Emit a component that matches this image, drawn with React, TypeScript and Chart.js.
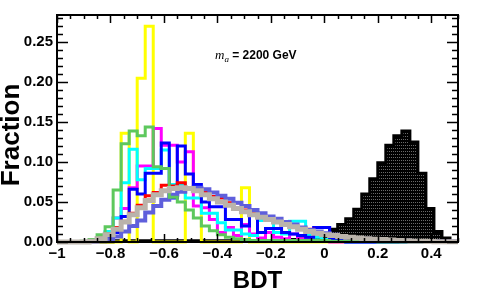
import React, { useEffect, useRef } from "react";
import { Chart, registerables } from "chart.js";

Chart.register(...registerables);

// Histogram binning (50 bins of width 0.03 from -1 to 0.5)
const BIN_MIN = -1;
const BIN_MAX = 0.5;
const N_BINS = 50;

// Axis ticks
const X_MAJOR = [-1, -0.8, -0.6, -0.4, -0.2, 0, 0.2, 0.4];
const X_LABELS = ["\u22121", "\u22120.8", "\u22120.6", "\u22120.4", "\u22120.2", "0", "0.2", "0.4"];
const X_MINOR_STEP = 0.05;
const Y_MAJOR = [0, 0.05, 0.1, 0.15, 0.2, 0.25];
const Y_LABELS = ["0.00", "0.05", "0.10", "0.15", "0.20", "0.25"];
const Y_MINOR_STEP = 0.01;
const Y_MAX = 0.284;

const X_TITLE = "BDT";
const Y_TITLE = "Fraction";

// Series (fraction per bin)
const yellow = [
  0, 0, 0, 0, 0, 0, 0, 0, 0.136, 0,
  0.205, 0.27, 0, 0, 0, 0, 0.136, 0.068, 0, 0,
  0, 0, 0, 0.068, 0, 0, 0, 0, 0, 0,
  0, 0, 0, 0, 0, 0, 0, 0, 0, 0,
  0, 0, 0, 0, 0, 0, 0, 0, 0, 0,
];
const magenta = [
  0, 0, 0, 0, 0.002, 0.004, 0.012, 0.03, 0.042, 0.068,
  0.095, 0.095, 0.142, 0.121, 0.121, 0.1, 0.113, 0.045, 0.043, 0.028,
  0.012, 0.018, 0.008, 0.022, 0.01, 0.005, 0.012, 0.006, 0.004, 0.01,
  0.004, 0.003, 0.002, 0.002, 0, 0, 0, 0, 0, 0,
  0, 0, 0, 0, 0, 0, 0, 0, 0, 0,
];
const cyan = [
  0, 0, 0, 0, 0.001, 0.005, 0.013, 0.03, 0.074, 0.116,
  0.078, 0.092, 0.092, 0.115, 0.072, 0.072, 0.055, 0.055, 0.036, 0.036,
  0.024, 0.015, 0.015, 0.01, 0.008, 0.027, 0.027, 0.012, 0.01, 0.026,
  0.026, 0.008, 0.006, 0.003, 0.002, 0.001, 0, 0, 0, 0,
  0, 0, 0, 0, 0, 0, 0, 0, 0, 0,
];
const blue = [
  0, 0, 0, 0, 0, 0.002, 0.006, 0.012, 0.032, 0.066,
  0.06, 0.086, 0.086, 0.124, 0.055, 0.12, 0.085, 0.072, 0.05, 0.044,
  0.044, 0.028, 0.028, 0.02, 0.04, 0.012, 0.017, 0.017, 0.012, 0.01,
  0.008, 0.006, 0.018, 0.018, 0.003, 0.002, 0, 0, 0, 0,
  0, 0, 0, 0, 0, 0, 0, 0, 0, 0,
];
const red = [
  0, 0, 0, 0, 0.002, 0.005, 0.01, 0.018, 0.026, 0.036,
  0.046, 0.058, 0.062, 0.071, 0.07, 0.074, 0.068, 0.066, 0.063, 0.057,
  0.055, 0.049, 0.049, 0.04, 0.038, 0.032, 0.03, 0.026, 0.025, 0.02,
  0.017, 0.016, 0.012, 0.01, 0.009, 0.007, 0.006, 0.005, 0.004, 0.0035,
  0.003, 0.0025, 0.002, 0.0015, 0.001, 0.001, 0.0005, 0.0003, 0.0003, 0.0003,
];
const green = [
  0, 0, 0, 0.001, 0.003, 0.009, 0.019, 0.065, 0.123, 0.139,
  0.133, 0.144, 0.094, 0.092, 0.056, 0.05, 0.04, 0.03, 0.02, 0.014,
  0.009, 0.006, 0.004, 0.003, 0.002, 0.002, 0.002, 0.002, 0.002, 0.002,
  0.002, 0.002, 0.002, 0.002, 0.001, 0.001, 0.001, 0.001, 0.001, 0.001,
  0, 0, 0, 0, 0, 0, 0, 0, 0, 0,
];
const slate = [
  0, 0, 0, 0, 0, 0.001, 0.003, 0.007, 0.013, 0.02,
  0.027, 0.037, 0.045, 0.053, 0.059, 0.063, 0.067, 0.068, 0.066, 0.062,
  0.058, 0.054, 0.049, 0.045, 0.04, 0.036, 0.032, 0.029, 0.025, 0.022,
  0.018, 0.015, 0.013, 0.011, 0.009, 0.007, 0.006, 0.005, 0.004, 0.003,
  0.003, 0.0025, 0.002, 0.0015, 0.001, 0.001, 0.0005, 0.0005, 0.0005, 0.0005,
];
const gray = [
  0, 0, 0, 0, 0.001, 0.004, 0.009, 0.016, 0.025, 0.034,
  0.043, 0.052, 0.059, 0.064, 0.067, 0.068, 0.067, 0.064, 0.059, 0.054,
  0.05, 0.046, 0.042, 0.038, 0.034, 0.031, 0.028, 0.025, 0.022, 0.019,
  0.016, 0.013, 0.011, 0.009, 0.008, 0.007, 0.006, 0.005, 0.004, 0.0035,
  0.003, 0.0025, 0.002, 0.0015, 0.001, 0.001, 0.0005, 0.0003, 0.0003, 0.0003,
];
const black = [
  0, 0, 0, 0, 0, 0, 0, 0.0015, 0.0015, 0.0015,
  0.0015, 0.0015, 0.0015, 0.0015, 0.0015, 0.0015, 0.0015, 0.0015, 0.0015, 0.0015,
  0.0015, 0.0015, 0.002, 0.002, 0.002, 0.002, 0.002, 0.002, 0.003, 0.003,
  0.004, 0.005, 0.006, 0.008, 0.016, 0.022, 0.029, 0.041, 0.06, 0.079,
  0.099, 0.121, 0.133, 0.139, 0.125, 0.086, 0.042, 0.013, 0.005, 0,
];

function histPoints(values: number[]) {
  const w = (BIN_MAX - BIN_MIN) / N_BINS;
  const pts: { x: number; y: number }[] = [];
  for (let i = 0; i <= N_BINS; i++) {
    pts.push({ x: BIN_MIN + i * w, y: values[Math.min(i, N_BINS - 1)] });
  }
  return pts;
}

const FONT = '"Liberation Sans", Arial, Helvetica, sans-serif';

const rootFrame = {
  id: "rootFrame",
  afterDatasetsDraw(chart: any) {
    const { ctx, chartArea: a, scales } = chart;
    const xs = scales.x;
    const ys = scales.y;
    ctx.save();
    ctx.strokeStyle = "#000";
    ctx.lineWidth = 2;
    ctx.strokeRect(a.left, a.top, a.right - a.left, a.bottom - a.top);

    ctx.lineWidth = 1.5;
    // x ticks (bottom & top, pointing inward)
    const nx = Math.round((BIN_MAX - BIN_MIN) / X_MINOR_STEP);
    for (let i = 0; i <= nx; i++) {
      const v = BIN_MIN + i * X_MINOR_STEP;
      const major = X_MAJOR.some((m) => Math.abs(m - v) < 1e-6);
      const len = major ? 8 : 4;
      const px = Math.round(xs.getPixelForValue(v)) + 0.5;
      ctx.beginPath();
      ctx.moveTo(px, a.bottom);
      ctx.lineTo(px, a.bottom - len);
      ctx.moveTo(px, a.top);
      ctx.lineTo(px, a.top + len);
      ctx.stroke();
    }
    // y ticks (left & right)
    const ny = Math.floor(Y_MAX / Y_MINOR_STEP + 1e-6);
    for (let i = 0; i <= ny; i++) {
      const v = i * Y_MINOR_STEP;
      const major = Y_MAJOR.some((m) => Math.abs(m - v) < 1e-6);
      const len = major ? 11 : 6;
      const py = Math.round(ys.getPixelForValue(v)) + 0.5;
      ctx.beginPath();
      ctx.moveTo(a.left, py);
      ctx.lineTo(a.left + len, py);
      ctx.moveTo(a.right, py);
      ctx.lineTo(a.right - len, py);
      ctx.stroke();
    }

    // tick labels
    ctx.fillStyle = "#000";
    ctx.font = `bold 15px ${FONT}`;
    ctx.textAlign = "center";
    ctx.textBaseline = "middle";
    X_MAJOR.forEach((v, i) => {
      ctx.fillText(X_LABELS[i], xs.getPixelForValue(v), a.bottom + 12);
    });
    ctx.textAlign = "right";
    Y_MAJOR.forEach((v, i) => {
      ctx.fillText(Y_LABELS[i], a.left - 4, ys.getPixelForValue(v));
    });

    // axis titles
    ctx.font = `bold 24px ${FONT}`;
    ctx.textAlign = "center";
    ctx.fillText(X_TITLE, (a.left + a.right) / 2, a.bottom + 39);
    ctx.save();
    ctx.translate(12, 135);
    ctx.rotate(-Math.PI / 2);
    ctx.font = `bold 26px ${FONT}`;
    ctx.fillText(Y_TITLE, 0, 0);
    ctx.restore();

    // annotation: m_a = 2200 GeV
    ctx.textAlign = "left";
    ctx.textBaseline = "alphabetic";
    let x = 215;
    const base = 59;
    ctx.font = `italic 13px "Liberation Serif", "Times New Roman", serif`;
    ctx.fillText("m", x, base);
    x += ctx.measureText("m").width;
    ctx.font = `italic 9px "Liberation Serif", "Times New Roman", serif`;
    ctx.fillText("a", x, base + 3);
    x += ctx.measureText("a").width;
    ctx.font = `bold 12px ${FONT}`;
    ctx.fillText(" = 2200 GeV", x, base);
    ctx.restore();
  },
};

export default function App() {
  const ref = useRef<HTMLCanvasElement | null>(null);
  useEffect(() => {
    const canvas = ref.current;
    if (!canvas) return;
    const c2d = canvas.getContext("2d")!;
    const pc = document.createElement("canvas");
    pc.width = 2;
    pc.height = 3;
    const pctx = pc.getContext("2d")!;
    pctx.fillStyle = "#000";
    pctx.fillRect(0, 0, 2, 3);
    pctx.fillStyle = "#6a6a6a";
    pctx.fillRect(1, 1, 1, 1);
    const pattern = c2d.createPattern(pc, "repeat");

    const line = (label: string, values: number[], color: string, width: number, order: number) => ({
      label,
      data: histPoints(values),
      borderColor: color,
      backgroundColor: color,
      borderWidth: width,
      stepped: "before" as const,
      pointRadius: 0,
      fill: false,
      order,
      clip: false as any,
      borderJoinStyle: "miter" as const,
      borderCapStyle: "butt" as const,
    });

    const chart = new Chart(canvas, {
      type: "line",
      data: {
        datasets: [
          line("gray", gray, "#bab3ab", 5, 0),
          line("green", green, "#5dc85d", 3, 1),
          line("slate", slate, "#5f5fdc", 4, 2),
          line("red", red, "#ff0000", 3, 3),
          line("blue", blue, "#0000ff", 3, 4),
          line("cyan", cyan, "#00ffff", 3, 5),
          line("magenta", magenta, "#ff00ff", 3, 6),
          line("yellow", yellow, "#ffff00", 3, 7),
          {
            ...line("black", black, "#000000", 3, 8),
            fill: "origin",
            backgroundColor: pattern as any,
          },
        ],
      },
      options: {
        responsive: false,
        animation: false,
        devicePixelRatio: 1,
        parsing: true,
        layout: { padding: { left: 57, right: 19, top: 15, bottom: 65 } },
        plugins: {
          legend: { display: false },
          tooltip: { enabled: false },
          title: { display: false },
        },
        scales: {
          x: { type: "linear", min: BIN_MIN, max: BIN_MAX, display: false },
          y: { type: "linear", min: 0, max: Y_MAX, display: false },
        },
      },
      plugins: [rootFrame],
    });
    return () => chart.destroy();
  }, []);

  return (
    <div style={{ position: "fixed", left: 0, top: 0, width: 477, height: 307, background: "#fff" }}>
      <canvas ref={ref} width={477} height={307} style={{ width: 477, height: 307, display: "block" }} />
    </div>
  );
}
